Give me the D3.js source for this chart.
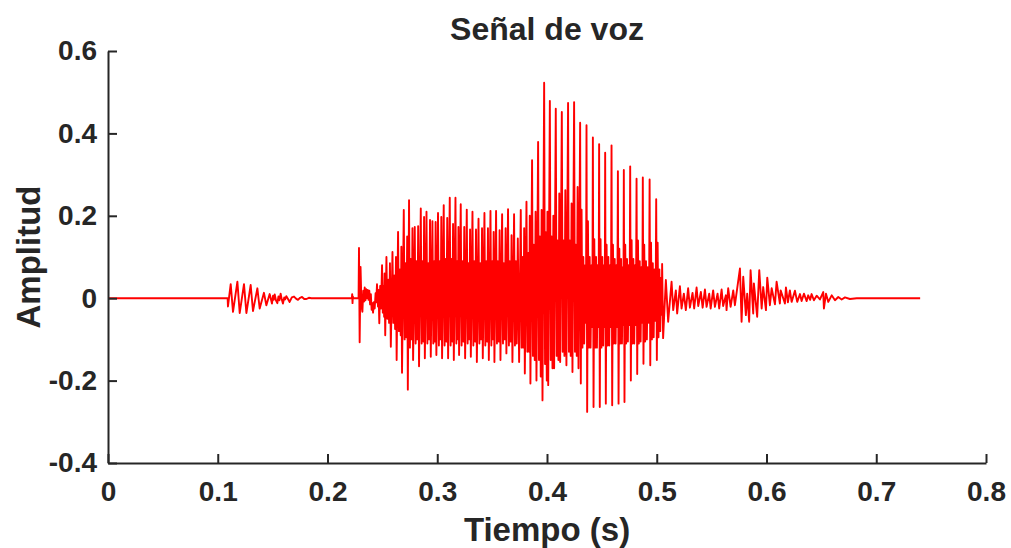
<!DOCTYPE html>
<html>
<head>
<meta charset="utf-8">
<script src="https://cdn.jsdelivr.net/npm/d3@7"></script>
<style>
  body { margin: 0; background: #fff; }
  text { font-family: "Liberation Sans", Arial, sans-serif; font-weight: bold; fill: #262626; }
</style>
</head>
<body>
<svg id="chart" width="1011" height="548"></svg>
<script>
// ---- Ejes ----
const xTicks = [0, 0.1, 0.2, 0.3, 0.4, 0.5, 0.6, 0.7, 0.8];
const yTicks = [-0.4, -0.2, 0, 0.2, 0.4, 0.6];

// ---- Señal: [tiempo en ms, amplitud] ----
const silence = [[0, 0], [109.0, 0]];

const burst1 = [
  [109.3, -0.020], [111.8, 0.034], [113.9, -0.033], [117.9, 0.040], [120.0, -0.036],
  [123.9, 0.034], [126.1, -0.036], [130.0, 0.032], [132.1, -0.031], [136.1, 0.024],
  [138.2, -0.025], [142.1, 0.013], [144.3, -0.017], [147.3, 0.010], [149.4, -0.013],
  [150.4, 0.006], [151.0, -0.004], [151.9, 0.009], [153.1, -0.006], [154.3, -0.012],
  [155.3, 0.004], [156.2, -0.005], [157.3, 0.011], [158.4, -0.004], [159.4, -0.013],
  [160.6, 0.002], [161.4, -0.003], [162.5, 0.005], [164.0, -0.002], [165.5, -0.009],
  [167.5, 0.002], [169.5, 0.004], [171.3, -0.001], [173.1, -0.004], [175.0, 0.001],
  [176.8, 0.003], [178.8, -0.002], [180.8, -0.002], [183.0, 0.001], [185.3, 0]
];

const blip = [
  [222.2, 0], [222.5, 0.010], [222.8, -0.012], [223.1, 0.004], [223.4, 0], [228.3, 0]
];

const onset = [
  [228.7, 0.122], [229.3, -0.107], [230.1, 0.076], [231.0, -0.020], [231.8, -0.033],
  [232.6, 0.018], [233.3, -0.008], [233.9, 0.026], [234.6, -0.005], [235.3, 0.022],
  [236.0, 0.000], [236.7, 0.020], [237.4, -0.004], [238.1, 0.018], [238.8, -0.015],
  [239.5, 0.010], [240.2, -0.028], [240.9, -0.012], [241.5, -0.035], [242.2, -0.010],
  [243.0, -0.025], [243.8, 0.012], [244.4, -0.010], [245.1, 0.034], [246.0, -0.020],
  [246.5, 0.020], [247.2, -0.061], [248.0, 0.030], [248.8, -0.025]
];

// tramo sonoro: pico principal, oscilaciones secundarias, valle antes del siguiente pico
const voiced = [
  [249.7, 0.080], [250.4, -0.035], [251.0, 0.030], [251.6, -0.045], [252.0, 0.060], [252.6, -0.090],
  [253.7, 0.100], [254.5, -0.050], [255.3, 0.045], [256.1, -0.060], [256.9, 0.085], [257.7, -0.118],
  [259.2, 0.112], [260.0, -0.060], [260.8, 0.055], [261.6, -0.075], [262.4, 0.100], [263.0, -0.150],
  [264.3, 0.161], [265.1, -0.080], [265.9, 0.070], [266.7, -0.090], [267.3, 0.125], [267.9, -0.181],
  [269.5, 0.214], [270.3, -0.100], [271.1, 0.085], [271.9, -0.095], [272.6, 0.150], [273.2, -0.222],
  [274.3, 0.238], [275.1, -0.120], [275.9, 0.095], [276.7, -0.100], [277.4, 0.170], [278.0, -0.150],
  [279.5, 0.173], [280.3, -0.110], [281.1, 0.090], [281.9, -0.100], [282.6, 0.175], [283.4, -0.165],
  [285.0, 0.218], [285.8, -0.110], [286.6, 0.090], [287.4, -0.105], [288.0, 0.197], [288.7, -0.146],
  [290.2, 0.210], [291.0, -0.110], [291.8, 0.085], [292.6, -0.100], [293.4, 0.190], [294.1, -0.142],
  [295.6, 0.187], [296.4, -0.110], [297.2, 0.090], [297.9, -0.105], [298.5, 0.185], [299.2, -0.138],
  [300.7, 0.207], [301.5, -0.115], [302.3, 0.090], [303.0, -0.100], [303.7, 0.197], [304.4, -0.146],
  [305.9, 0.226], [306.7, -0.115], [307.5, 0.095], [308.3, -0.105], [309.1, 0.195], [309.9, -0.146],
  [311.4, 0.244], [312.2, -0.115], [313.0, 0.095], [313.8, -0.105], [314.4, 0.180], [315.1, -0.150],
  [316.6, 0.244], [317.4, -0.110], [318.1, 0.090], [318.8, -0.100], [319.3, 0.173], [319.9, -0.138],
  [321.4, 0.228], [322.2, -0.115], [323.0, 0.090], [323.8, -0.105], [324.6, 0.173], [325.4, -0.146],
  [326.9, 0.215], [327.7, -0.110], [328.5, 0.085], [329.3, -0.100], [329.9, 0.167], [330.6, -0.142],
  [332.1, 0.210], [332.9, -0.115], [333.7, 0.090], [334.5, -0.105], [335.3, 0.167], [336.1, -0.155],
  [337.6, 0.193], [338.4, -0.110], [339.2, 0.085], [340.0, -0.100], [340.8, 0.170], [341.5, -0.146],
  [343.0, 0.207], [343.8, -0.115], [344.6, 0.090], [345.4, -0.105], [346.2, 0.170], [347.0, -0.150],
  [348.5, 0.212], [349.3, -0.115], [350.1, 0.090], [350.8, -0.100], [351.4, 0.161], [352.1, -0.155],
  [353.6, 0.212], [354.4, -0.110], [355.2, 0.090], [356.0, -0.105], [356.8, 0.165], [357.6, -0.150],
  [359.1, 0.204], [359.9, -0.110], [360.7, 0.085], [361.5, -0.100], [362.3, 0.170], [363.0, -0.134],
  [364.5, 0.216], [365.3, -0.115], [366.1, 0.090], [366.9, -0.105], [367.7, 0.153], [368.5, -0.155],
  [370.0, 0.204], [370.8, -0.115], [371.6, 0.090], [372.4, -0.110], [373.4, 0.145], [374.6, -0.155],
  [376.1, 0.214], [376.9, -0.120], [377.7, 0.100], [378.5, -0.120], [379.2, 0.170], [379.8, -0.183],
  [381.3, 0.234], [382.1, -0.130], [382.9, 0.110], [383.7, -0.130], [384.3, 0.200], [384.9, -0.207],
  [386.4, 0.335], [387.2, -0.140], [388.0, 0.130], [388.8, -0.150], [389.6, 0.210], [390.4, -0.200],
  [391.9, 0.379], [392.7, -0.150], [393.5, 0.150], [394.3, -0.190], [395.1, 0.214], [395.9, -0.248],
  [397.4, 0.523], [398.2, -0.160], [399.0, 0.160], [399.8, -0.200], [400.4, 0.210], [401.1, -0.211],
  [402.6, 0.479], [403.4, -0.150], [404.2, 0.150], [405.0, -0.170], [405.8, 0.200], [406.5, -0.170],
  [408.0, 0.460], [408.8, -0.140], [409.6, 0.140], [410.4, -0.150], [411.2, 0.254], [412.0, -0.155],
  [413.5, 0.452], [414.3, -0.130], [415.1, 0.140], [415.9, -0.140], [416.7, 0.262], [417.7, -0.163],
  [419.2, 0.474], [420.0, -0.130], [420.8, 0.140], [421.6, -0.140], [422.4, 0.230], [423.2, -0.179],
  [424.7, 0.476], [425.5, -0.130], [426.3, 0.130], [427.1, -0.140], [427.9, 0.270], [428.7, -0.170],
  [430.2, 0.426], [430.8, -0.207], [431.5, 0.215], [432.3, -0.120], [433.1, 0.100], [433.9, -0.110], [434.8, 0.080], [435.5, -0.060],
  [436.0, 0.420], [436.6, -0.276], [437.3, 0.187], [438.1, -0.120], [438.9, 0.100], [439.7, -0.120], [440.6, 0.080], [441.3, -0.070],
  [441.8, 0.390], [442.4, -0.264], [443.1, 0.143], [443.9, -0.120], [444.7, 0.100], [445.5, -0.120], [446.3, 0.080], [447.0, -0.070],
  [447.5, 0.374], [448.1, -0.264], [448.8, 0.143], [449.6, -0.120], [450.4, 0.100], [451.2, -0.115], [452.0, 0.080], [452.6, -0.070],
  [453.0, 0.353], [453.6, -0.256], [454.3, 0.130], [455.1, -0.115], [455.9, 0.100], [456.7, -0.115], [457.5, 0.080], [458.2, -0.070],
  [458.8, 0.371], [459.4, -0.260], [460.1, 0.130], [460.9, -0.110], [461.7, 0.095], [462.5, -0.110], [463.3, 0.080], [464.0, -0.070],
  [464.6, 0.308], [465.2, -0.256], [465.9, 0.120], [466.7, -0.110], [467.5, 0.095], [468.3, -0.110], [469.1, 0.075], [469.6, -0.065],
  [470.0, 0.311], [470.6, -0.252], [471.3, 0.130], [472.1, -0.110], [472.9, 0.095], [473.7, -0.105], [474.5, 0.080], [475.2, -0.065],
  [475.8, 0.320], [476.4, -0.200], [477.1, 0.141], [477.9, -0.110], [478.7, 0.095], [479.5, -0.110], [480.3, 0.080], [481.0, -0.065],
  [481.6, 0.290], [482.2, -0.184], [482.9, 0.140], [483.7, -0.110], [484.5, 0.090], [485.3, -0.105], [486.1, 0.075], [486.8, -0.060],
  [487.3, 0.293], [487.9, -0.159], [488.6, 0.130], [489.4, -0.105], [490.2, 0.090], [491.0, -0.100], [491.8, 0.075], [492.9, -0.060],
  [493.5, 0.288], [494.1, -0.163], [494.8, 0.135], [495.6, -0.100], [496.4, 0.085], [497.2, -0.095], [498.0, 0.070], [498.9, -0.055],
  [499.5, 0.240], [500.1, -0.150], [500.8, 0.135], [501.6, -0.095], [502.4, 0.070], [503.2, -0.080], [504.0, 0.050], [504.5, -0.040],
  [504.9, 0.083], [505.8, -0.097]
];

const tail = [
  [508.3, 0.044], [510.4, -0.057], [513.5, 0.040], [515.0, -0.029], [517.4, 0.019], [518.6, -0.037],
  [521.1, 0.029], [522.6, -0.025], [524.7, 0.011], [526.5, -0.029], [528.6, 0.024], [530.2, -0.023],
  [532.6, 0.013], [534.1, -0.025], [536.3, 0.026], [537.8, -0.019], [540.2, 0.015], [541.8, -0.023],
  [543.9, 0.021], [545.4, -0.021], [547.8, 0.011], [549.1, -0.025], [551.4, 0.019], [553.0, -0.021],
  [555.4, 0.011], [556.9, -0.025], [559.1, 0.021], [560.5, -0.019], [563.0, 0.007], [563.6, -0.029],
  [565.1, 0.024], [567.3, -0.021], [569.7, 0.019], [571.2, -0.017], [573.3, 0.024], [575.8, 0.072],
  [577.3, -0.057], [578.8, 0.052], [581.2, -0.041], [582.4, 0.011], [584.2, -0.057], [585.5, 0.068],
  [587.9, -0.037], [588.5, 0.036], [591.5, -0.045], [593.4, 0.068], [595.6, -0.025], [597.0, 0.027],
  [599.5, -0.029], [600.7, 0.050], [603.1, -0.017], [604.7, 0.024], [607.7, -0.015], [609.2, 0.040],
  [612.2, -0.013], [612.9, 0.019], [616.8, -0.013], [617.7, 0.026], [619.5, -0.010], [621.3, 0.019],
  [622.9, -0.009], [625.9, 0.018], [628.0, -0.009], [630.5, 0.010], [632.0, -0.007], [634.1, 0.011],
  [636.6, -0.007], [638.0, 0.007], [639.8, -0.004], [641.1, 0.010], [643.2, -0.005], [645.7, 0.006],
  [648.7, -0.003], [651.7, 0.015], [652.3, -0.025], [654.2, 0.011], [656.3, -0.009], [659.4, 0.007],
  [662.4, -0.005], [665.4, 0.003], [668.5, -0.003], [671.5, 0.002], [676.0, -0.002], [682.2, 0],
  [740.0, 0]
];

const signal = [].concat(silence, burst1, blip, onset, voiced, tail);

// ---- Dibujo ----
const svg = d3.select('#chart');
const x = d3.scaleLinear().domain([0, 0.8]).range([108, 986]);
const y = d3.scaleLinear().domain([-0.4, 0.6]).range([463, 51]);
const axisColor = '#262626';
const fmt = d => (d === 0 ? '0' : d.toFixed(1));

const line = d3.line()
  .x(d => x(d[0] / 1000))
  .y(d => y(d[1]));

svg.append('path')
  .datum(signal)
  .attr('d', line)
  .attr('fill', 'none')
  .attr('stroke', '#ff0000')
  .attr('stroke-width', 1.9)
  .attr('stroke-linejoin', 'round');

const xAxis = svg.append('g')
  .attr('transform', 'translate(0,463)')
  .call(d3.axisBottom(x).tickValues(xTicks).tickFormat(fmt)
    .tickSizeInner(-9).tickSizeOuter(0).tickPadding(18));

const yAxis = svg.append('g')
  .attr('transform', 'translate(108,0)')
  .call(d3.axisLeft(y).tickValues(yTicks).tickFormat(fmt)
    .tickSizeInner(-9).tickSizeOuter(0).tickPadding(11));

[xAxis, yAxis].forEach(g => {
  g.select('.domain').attr('stroke', axisColor).attr('stroke-width', 2);
  g.selectAll('.tick line').attr('stroke', axisColor).attr('stroke-width', 2);
  g.selectAll('.tick text')
    .attr('fill', axisColor)
    .style('font-size', '28px')
    .style('font-family', '"Liberation Sans", Arial, sans-serif')
    .style('font-weight', 'bold');
});

svg.append('text')
  .attr('x', 547).attr('y', 40)
  .attr('text-anchor', 'middle')
  .style('font-size', '32px')
  .text('Señal de voz');

svg.append('text')
  .attr('x', 547).attr('y', 541)
  .attr('text-anchor', 'middle')
  .style('font-size', '33px')
  .text('Tiempo (s)');

svg.append('text')
  .attr('transform', 'translate(40,257) rotate(-90)')
  .attr('text-anchor', 'middle')
  .style('font-size', '33px')
  .text('Amplitud');
</script>
</body>
</html>
